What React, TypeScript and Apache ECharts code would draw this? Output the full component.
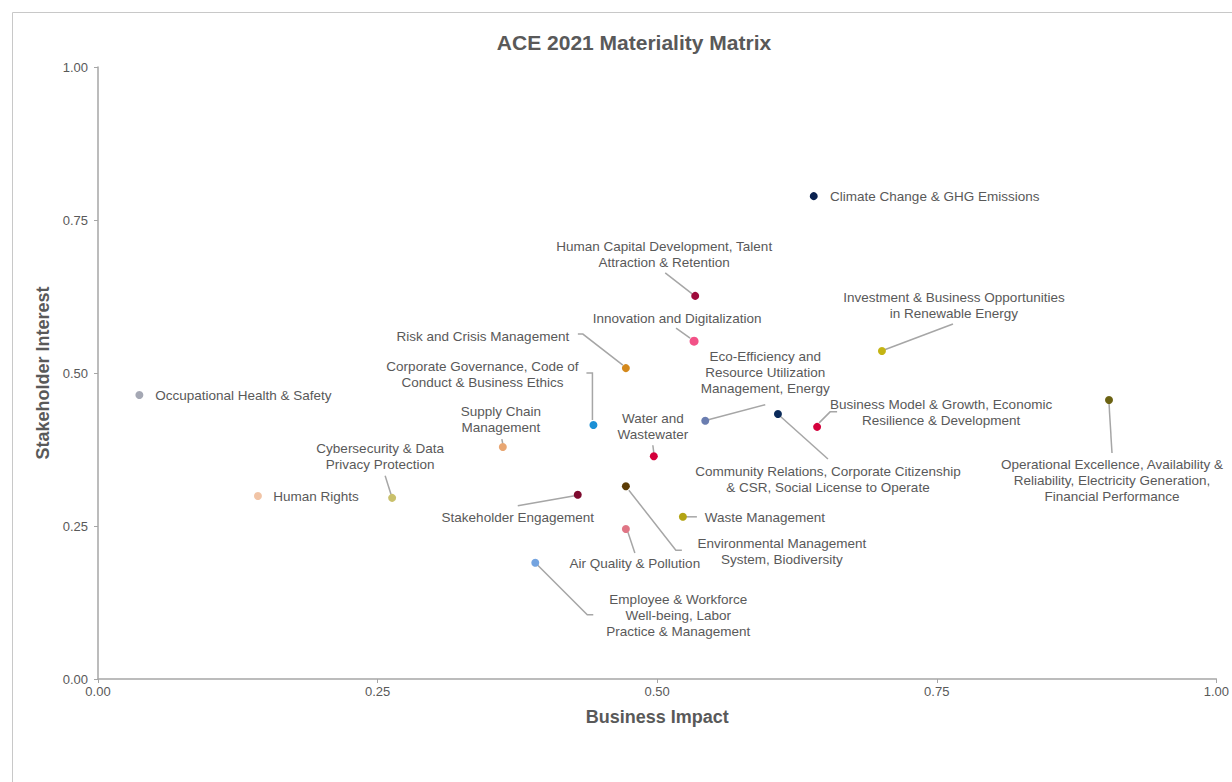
import React, { useEffect, useRef } from "react";
import * as echarts from "echarts";

// ---- Data ----
const TOPICS = [
  "Climate Change & GHG Emissions",
  "Human Capital Development, Talent\nAttraction & Retention",
  "Innovation and Digitalization",
  "Risk and Crisis Management",
  "Corporate Governance, Code of\nConduct & Business Ethics",
  "Occupational Health & Safety",
  "Supply Chain\nManagement",
  "Cybersecurity & Data\nPrivacy Protection",
  "Human Rights",
  "Stakeholder Engagement",
  "Water and\nWastewater",
  "Eco-Efficiency and\nResource Utilization\nManagement, Energy",
  "Community Relations, Corporate Citizenship\n& CSR, Social License to Operate",
  "Business Model & Growth, Economic\nResilience & Development",
  "Investment & Business Opportunities\nin Renewable Energy",
  "Operational Excellence, Availability &\nReliability, Electricity Generation,\nFinancial Performance",
  "Environmental Management\nSystem, Biodiversity",
  "Waste Management",
  "Air Quality & Pollution",
  "Employee & Workforce\nWell-being, Labor\nPractice & Management",
];

const BUSINESS_IMPACT = [
  0.64, 0.534, 0.533, 0.472, 0.443, 0.037, 0.362, 0.263, 0.143, 0.429,
  0.497, 0.543, 0.608, 0.643, 0.701, 0.904, 0.472, 0.523, 0.472, 0.391,
];

const STAKEHOLDER_INTEREST = [
  0.789, 0.626, 0.552, 0.508, 0.415, 0.464, 0.379, 0.296, 0.299, 0.301,
  0.364, 0.422, 0.433, 0.412, 0.536, 0.456, 0.315, 0.265, 0.245, 0.19,
];

const TICKS = ["0.00", "0.25", "0.50", "0.75", "1.00"];

// ---- Styles (colours, label layout) ----
const COLORS = [
  "#0a2150", "#9e0b3c", "#f25287", "#d4891c", "#1b90d6",
  "#a5a8b4", "#e8a672", "#c9c06b", "#f1c4a6", "#7d0a2e",
  "#d4003b", "#6a7db0", "#0a2a5a", "#d4003c", "#c4b413",
  "#6b6212", "#5c3c06", "#b3a414", "#e07585", "#74a4e0",
];

// label centre offset from its point, in pixels [dx, dy]
const LABEL_OFFSETS: [number, number][] = [
  [121, 0], [-31, -41], [-17, -23], [-143, -32], [-111, -51],
  [104, 0], [-2, -28], [-12, -41], [58, 0], [-60, 23],
  [-1, -30], [60, -48], [50, 65], [124, -14], [72, -45],
  [3, 81], [156, 65], [82, 1], [9, 34], [143, 53],
];

// leader line vertices, as pixel offsets from the point (null = no leader)
const LEADERS: ([number, number][] | null)[] = [
  null,
  [[-30, -23], [-3, -2]],
  [[-18, -13], [-4, -3]],
  [[-48, -34], [-43, -34], [-3, -3]],
  [[-7, -52], [-1, -52], [-1, -5]],
  null,
  [[-1, -8], [0, -3]],
  [[-7, -22], [-1, -3]],
  null,
  [[-60, 11], [-3, 1]],
  [[-1, -11], [0, -3]],
  [[60, -16], [3, -1]],
  [[2, 2], [50, 45]],
  [[2, -4], [13, -15], [20, -15]],
  [[2, -1], [71, -27]],
  [[0, 3], [3, 53]],
  [[3, 4], [50, 64], [56, 64]],
  [[2, 0], [14, 0]],
  [[2, 3], [9, 24]],
  [[1, 1], [52, 52], [58, 52]],
];

const TEXT = "#595959";
const FONT = "'Liberation Sans', Arial, sans-serif";

export default function App() {
  const ref = useRef<HTMLDivElement>(null);

  useEffect(() => {
    document.body.style.margin = "0";
    if (!ref.current) return;
    const chart = echarts.init(ref.current, null, { renderer: "svg" });

    const pointData = TOPICS.map((name, i) => ({
      name,
      value: [BUSINESS_IMPACT[i], STAKEHOLDER_INTEREST[i]],
      symbolSize: i === 2 ? 9 : 8,
      itemStyle: { color: COLORS[i], opacity: 1 },
    }));

    const leaderData = TOPICS.map((_, i) => [BUSINESS_IMPACT[i], STAKEHOLDER_INTEREST[i]]);

    const axisCommon = {
      type: "value",
      min: 0,
      max: 1,
      interval: 0.25,
      nameLocation: "middle",
      nameTextStyle: { fontSize: 18, fontWeight: "bold", color: TEXT, fontFamily: FONT },
      splitLine: { show: false },
      axisLine: { show: true, lineStyle: { color: "#a6a6a6", width: 1.5 } },
      axisTick: { show: true, length: 4, lineStyle: { color: "#a6a6a6" } },
    };

    chart.setOption({
      animation: false,
      textStyle: { fontFamily: FONT },
      title: {
        text: "ACE 2021 Materiality Matrix",
        left: 629,
        textAlign: "center",
        top: 27,
        textStyle: { fontSize: 21, fontWeight: "bold", color: TEXT, fontFamily: FONT },
      },
      graphic: [
        {
          type: "rect",
          silent: true,
          z: -10,
          shape: { x: 12.5, y: 12.5, width: 1400, height: 1000 },
          style: { fill: "none", stroke: "#c8c8c8", lineWidth: 1 },
        },
      ],
      grid: { left: 98, right: 15, top: 67, bottom: 103, containLabel: false },
      xAxis: {
        ...axisCommon,
        name: "Business Impact",
        nameGap: 29,
        axisLabel: {
          color: TEXT,
          fontSize: 13,
          margin: 6,
          formatter: (v: number) => TICKS[Math.round(v * 4)],
        },
      },
      yAxis: {
        ...axisCommon,
        name: "Stakeholder Interest",
        nameGap: 43,
        axisLabel: {
          color: TEXT,
          fontSize: 13,
          margin: 10,
          formatter: (v: number) => TICKS[Math.round(v * 4)],
        },
      },
      series: [
        {
          type: "custom",
          z: 1,
          silent: true,
          data: leaderData,
          renderItem: (params: any, api: any) => {
            const seg = LEADERS[params.dataIndex];
            if (!seg) return { type: "group", children: [] };
            const p = api.coord([api.value(0), api.value(1)]);
            return {
              type: "polyline",
              shape: { points: seg.map(([dx, dy]) => [p[0] + dx, p[1] + dy]) },
              style: { stroke: "#a6a6a6", lineWidth: 1.5, fill: "none" },
            };
          },
        },
        {
          type: "scatter",
          z: 2,
          data: pointData,
          label: {
            show: true,
            position: "inside",
            formatter: "{b}",
            color: TEXT,
            fontSize: 13.5,
            lineHeight: 16,
            align: "center",
            verticalAlign: "middle",
            fontFamily: FONT,
          },
          labelLayout: (params: any) => {
            const o = LABEL_OFFSETS[params.dataIndex];
            return { dx: o[0], dy: o[1] };
          },
          emphasis: { disabled: true },
        },
      ],
    });

    return () => chart.dispose();
  }, []);

  return <div ref={ref} style={{ width: 1232, height: 782 }} />;
}
